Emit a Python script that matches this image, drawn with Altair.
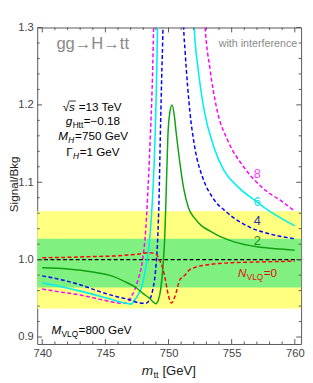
import altair as alt
import pandas as pd

# ---------------- data ----------------
m_n0 = [740, 742, 744, 746, 747.5, 748.5, 749.0, 749.25, 749.5, 749.75, 750.0, 750.23,
        750.5, 750.9, 751.3, 751.6, 752.1, 753.4, 755.0, 757.0, 760.0]
r_n0 = [1.0025, 1.003, 1.004, 1.005, 1.007, 1.009, 1.0075, 1.001, 0.991, 0.974, 0.953, 0.944,
        0.952, 0.974, 0.980, 0.986, 0.990, 0.994, 0.996, 0.997, 0.998]

m_n2 = [740, 742, 744, 745.5, 746.5, 747.5, 748.0, 748.5, 749.0, 749.2, 749.38, 749.56, 749.71,
        749.82, 749.95, 750.1, 750.28, 750.45, 750.6, 750.9, 751.2, 751.6, 752.1, 752.6, 753.4,
        754.2, 755.2, 757.0, 758.5, 760.0]
r_n2 = [0.9895, 0.988, 0.984, 0.979, 0.972, 0.963, 0.956, 0.950, 0.943, 0.948, 0.962, 0.991, 1.033,
        1.09, 1.16, 1.19, 1.20, 1.187, 1.165, 1.125, 1.092, 1.066, 1.053, 1.044, 1.036,
        1.029, 1.023, 1.0166, 1.014, 1.0123]

m_n4 = [740, 741.5, 743.1, 744.5, 745.7, 746.95, 747.7, 748.2, 748.45, 748.75, 749.0, 749.15,
        749.25, 749.35, 749.45, 749.56, 749.7, 750.4, 751.05, 751.2, 751.31, 751.7, 752.08,
        752.73, 753.5, 754.66, 756.46, 758.0, 760.0]
r_n4 = [0.979, 0.974, 0.967, 0.959, 0.953, 0.948, 0.944, 0.9435, 0.947, 0.961, 0.991, 1.03,
        1.08, 1.16, 1.23, 1.30, 1.45, 1.8, 1.42, 1.30, 1.27, 1.19, 1.145,
        1.105, 1.08, 1.0606, 1.0417, 1.0333, 1.027]

m_n6 = [740, 741.5, 743.1, 744.5, 745.7, 746.5, 747.0, 747.45, 747.9, 748.2, 748.5, 748.7,
        748.85, 748.95, 749.05, 749.13, 749.3, 750.5, 751.7, 752.03, 752.34, 752.8, 753.6,
        754.4, 755.5, 756.97, 758.0, 760.0]
r_n6 = [0.970, 0.965, 0.959, 0.953, 0.9476, 0.944, 0.9425, 0.951, 0.966, 0.99, 1.025, 1.07,
        1.12, 1.165, 1.23, 1.30, 1.5, 2.0, 1.45, 1.30, 1.247, 1.195, 1.145,
        1.115, 1.094, 1.075, 1.0626, 1.0437]

m_n8 = [740, 741.5, 743.1, 744.5, 745.65, 746.3, 746.7, 747.0, 747.3, 747.6, 747.95, 748.2,
        748.4, 748.56, 748.7, 748.82, 749.0, 750.8, 752.6, 752.9, 753.28, 753.82, 754.72,
        755.9, 757.5, 759.0, 760.0]
r_n8 = [0.962, 0.958, 0.954, 0.949, 0.945, 0.9435, 0.944, 0.951, 0.96, 0.975, 1.0, 1.04,
        1.1, 1.16, 1.22, 1.30, 1.45, 2.2, 1.40, 1.30, 1.247, 1.195, 1.153,
        1.121, 1.092, 1.075, 1.0626]

reference_level = [1.0]
yellow_band = [0.937, 1.0626]
green_band = [0.964, 1.027]

x_major = [740, 745, 750, 755, 760]
x_minor = [741, 742, 743, 744, 746, 747, 748, 749, 751, 752, 753, 754, 756, 757, 758, 759]
y_major = [0.9, 1.0, 1.1, 1.2, 1.3]
y_minor = [0.92, 0.94, 0.96, 0.98, 1.02, 1.04, 1.06, 1.08, 1.12, 1.14, 1.16, 1.18,
           1.22, 1.24, 1.26, 1.28]

# ---------------- styling ----------------
W, H = 271, 325
FONT = "Liberation Sans"
FRAME = "#555555"
LABEL = "#444444"
GRAY = "#8a8a8a"

XS = alt.Scale(domain=[739.6, 760.5], nice=False, zero=False)
YS = alt.Scale(domain=[0.891, 1.3], nice=False, zero=False)
XA = alt.Axis(values=x_major, title=None, ticks=False, domain=False, grid=False,
              labelFont=FONT, labelFontSize=11.5, labelColor=LABEL, labelPadding=4,
              labelFlush=False, labelOverlap=False)
YA = alt.Axis(values=y_major, format=".1f", title=None, ticks=False, domain=False, grid=False,
              labelFont=FONT, labelFontSize=11.5, labelColor=LABEL, labelPadding=4,
              labelFlush=False, labelOverlap=False)

ONE = pd.DataFrame({"k": [0]})
layers = []

# bands
band_df = pd.DataFrame({"lo": [yellow_band[0], green_band[0]],
                        "hi": [yellow_band[1], green_band[1]],
                        "band": ["yellow", "green"]})
layers.append(
    alt.Chart(band_df).mark_rect().encode(
        y=alt.Y("lo:Q", scale=YS, axis=YA),
        y2="hi:Q",
        x=alt.value(0), x2=alt.value(W),
        color=alt.Color("band:N", scale=alt.Scale(domain=["yellow", "green"],
                                                   range=["#FFFF80", "#80F080"]), legend=None),
    )
)

# reference line
layers.append(
    alt.Chart(pd.DataFrame({"v": reference_level})).mark_rule(
        color="black", strokeWidth=1.2, strokeDash=[4, 2.5]).encode(
        y=alt.Y("v:Q", scale=YS, axis=YA))
)

def curve(ms, rs, color, dashed, width=1.5):
    df = pd.DataFrame({"m": ms, "r": rs})
    kw = dict(color=color, strokeWidth=width, clip=True, interpolate="monotone")
    if dashed:
        kw["strokeDash"] = [4, 2.5]
    return alt.Chart(df).mark_line(**kw).encode(
        x=alt.X("m:Q", scale=XS, axis=XA),
        y=alt.Y("r:Q", scale=YS, axis=YA),
    )

layers.append(curve(m_n8, r_n8, "#FF00FF", True))
layers.append(curve(m_n6, r_n6, "#00F0F0", False, 1.6))
layers.append(curve(m_n4, r_n4, "#0000FF", True))
layers.append(curve(m_n2, r_n2, "#10A010", False))
layers.append(curve(m_n0, r_n0, "#FF0000", True))

# inward frame ticks
def xticks(vals, length):
    df = pd.DataFrame({"v": vals})
    base = alt.Chart(df).mark_rule(color=FRAME, strokeWidth=1)
    return [
        base.encode(x=alt.X("v:Q", scale=XS, axis=XA), y=alt.value(H), y2=alt.value(H - length)),
        base.encode(x=alt.X("v:Q", scale=XS, axis=XA), y=alt.value(0), y2=alt.value(length)),
    ]

def yticks(vals, length):
    df = pd.DataFrame({"v": vals})
    base = alt.Chart(df).mark_rule(color=FRAME, strokeWidth=1)
    return [
        base.encode(y=alt.Y("v:Q", scale=YS, axis=YA), x=alt.value(0), x2=alt.value(length)),
        base.encode(y=alt.Y("v:Q", scale=YS, axis=YA), x=alt.value(W), x2=alt.value(W - length)),
    ]

layers += xticks(x_major, 5) + xticks(x_minor, 2.5) + yticks(y_major, 5) + yticks(y_minor, 2.5)

# ---------------- rich text helper ----------------
WID = {' ': .278, '.': .278, '=': .584, '\u2212': .584, '[': .278, ']': .278, 'G': .778,
       'e': .556, 'V': .667, 'T': .611, 'L': .556, 'Q': .778, 'M': .833, 'H': .722, 'N': .722,
       'g': .556, 't': .278, 's': .5, 'm': .833, '\u0393': .578, '\u221a': .549}

def tw(s, size):
    return sum(WID.get(c, .556) for c in s) * size

def rich(segs, x, y, color="black"):
    # segs: (text, size, italic, dy, gap_before)
    total = sum(tw(t, sz) + g for t, sz, it, dy, g in segs)
    cur = x - total / 2
    out = []
    for t, sz, it, dy, g in segs:
        cur += g
        out.append(alt.Chart(ONE).mark_text(
            text=t, font=FONT, fontSize=sz, fontStyle="italic" if it else "normal",
            align="left", baseline="alphabetic", color=color).encode(
            x=alt.value(cur), y=alt.value(y + dy)))
        cur += tw(t, sz) + (0.4 if it else 0)
    return out

def simple(text, x, y, size, color, align="center", angle=0):
    return alt.Chart(ONE).mark_text(
        text=text, font=FONT, fontSize=size, color=color, align=align,
        baseline="alphabetic", angle=angle).encode(
        x=alt.value(x), y=alt.value(y))

FS = 12
SUB = 8.5
layers.append(simple("gg\u2192H\u2192tt", 57, 22, 17, GRAY))
layers.append(simple("with interference", 267, 20, 11, GRAY, align="right"))

# sqrt(s) line
seg1 = [("\u221a", FS, False, 0, 0), ("s", FS, True, 0, 0), ("=13 TeV", FS, False, 0, 3.5)]
layers += rich(seg1, 57, 86)
tot1 = sum(tw(t, sz) + g for t, sz, it, dy, g in seg1)
sx0 = 57 - tot1 / 2 + tw("\u221a", FS)
layers.append(alt.Chart(ONE).mark_rule(color="black", strokeWidth=0.8).encode(
    x=alt.value(sx0 - 0.5), x2=alt.value(sx0 + tw("s", FS) + 1), y=alt.value(86 - 10.5)))

layers += rich([("g", FS, True, 0, 0), ("Htt", SUB, False, 3, 0), ("=\u22120.18", FS, False, 0, 0.5)], 57, 100.5)
layers += rich([("M", FS, True, 0, 0), ("H", SUB, True, 3, 0), ("=750 GeV", FS, False, 0, 0.5)], 57, 116)
layers += rich([("\u0393", FS, False, 0, 0), ("H", SUB, True, 3, 0), ("=1 GeV", FS, False, 0, 0.5)], 57, 132)
layers += rich([("M", FS, True, 0, 0), ("VLQ", SUB, False, 3, 0), ("=800 GeV", FS, False, 0, 0.5)], 55.5, 314.5)
layers += rich([("N", FS, True, 0, 0), ("VLQ", SUB, False, 3, 0), ("=0", FS, False, 0, 0.5)], 226, 256.5,
               color="#E01010")

layers.append(simple("8", 226, 155, 13, "#FF40FF"))
layers.append(simple("6", 226, 183, 13, "#20E0E0"))
layers.append(simple("4", 226, 203, 13, "#3030B0"))
layers.append(simple("2", 226, 223, 13, "#109010"))

# axis titles
layers += rich([("m", 14, True, 0, 0), ("tt", 9.5, False, 3, 0), ("[GeV]", 13.5, False, 0, 4)], 135, 356.5,
               color="#222222")
layers.append(simple("Signal/Bkg", -19.5, 161, 12, "#222222", angle=270))

chart = alt.layer(*layers).properties(
    width=W, height=H,
    padding={"left": 30, "top": 15, "right": 4, "bottom": 34},
    autosize=alt.AutoSizeParams(type="none"),
).configure_view(stroke=FRAME, strokeWidth=1)

chart.save("out.html", embed_options={"renderer": "svg", "actions": False})
